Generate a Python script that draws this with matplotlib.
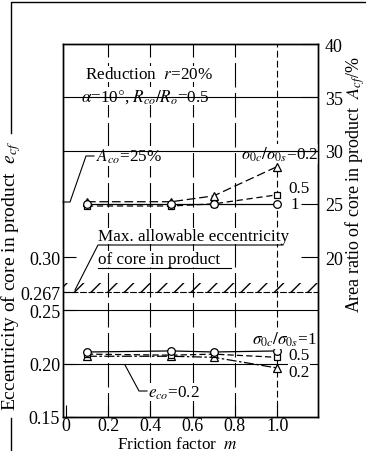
import numpy as np
import matplotlib
matplotlib.use('Agg')
import matplotlib.pyplot as plt
from matplotlib.lines import Line2D

plt.rcParams['font.family'] = ['Liberation Serif', 'DejaVu Serif']
plt.rcParams['mathtext.fontset'] = 'stix'

# Friction factor m
m = [0.1, 0.5, 0.7, 1.0]

# Area ratio of core in product A_cf [%] (right axis)
area_s1 = [25.0, 25.0, 25.0, 25.0]       # sigma_0c/sigma_0s = 1
area_s05 = [24.8, 24.8, 25.0, 25.85]     # 0.5
area_s02 = [25.2, 25.2, 25.75, 28.5]     # 0.2

# Eccentricity of core in product e_cf (left axis)
ecc_s1 = [0.211, 0.212, 0.211, 0.212]
ecc_s05 = [0.209, 0.208, 0.209, 0.206]
ecc_s02 = [0.207, 0.207, 0.206, 0.196]

e_max = 0.267
left_ticks = [0.15, 0.20, 0.25, 0.267, 0.30]
left_labels = ['0.15', '0.20', '0.25', '0.267', '0.30']
right_ticks = [20, 25, 30, 35, 40]
x_ticks = [0, 0.2, 0.4, 0.6, 0.8, 1.0]
x_labels = ['0', '0.2', '0.4', '0.6', '0.8', '1.0']

W, H = 366, 452
fig = plt.figure(figsize=(W / 100, H / 100), dpi=100)
L, R, T, B = 63, 318, 45, 418
ax = fig.add_axes([L / W, 1 - B / H, (R - L) / W, (B - T) / H])
ax2 = ax.twinx()

ax.set_xlim(-0.013, 1.193)
ax.set_ylim(0.15, 0.50)
ax2.set_ylim(5, 40)


def pa(x, y):
    # pixel -> axes fraction
    return (x - L) / (R - L), (B - y) / (B - T)


def seg(pts, **kw):
    xs, ys = zip(*[pa(*p) for p in pts])
    ax.plot(xs, ys, transform=ax.transAxes, color='k', lw=0.8, clip_on=False, **kw)


# grid
for xv in [0.2, 0.4, 0.6, 0.8]:
    ax.axvline(xv, color='k', lw=0.8, ls=(0, (22, 5)), zorder=0)
ax.axvline(1.0, color='k', lw=0.8, ls=(0, (6, 3)), zorder=0)
for yv in [0.20, 0.25]:
    ax.axhline(yv, color='k', lw=0.8, zorder=0)
for yv in [30, 35]:
    ax2.axhline(yv, color='k', lw=0.8, zorder=0)

# hatched limit
ax.axhline(e_max, color='k', lw=0.8, ls=(0, (6, 1.5)))
ax.fill_between([-0.013, 1.193], e_max, e_max + 0.0085, facecolor='none',
                edgecolor='k', hatch='//', lw=0)

mk = dict(color='k', mfc='white', mec='k', mew=0.9, lw=0.9, zorder=3)
# eccentricity curves
ax.plot(m, ecc_s02, marker='^', ms=5.5, ls=(0, (8, 2, 2, 2)), **mk)
ax.plot(m, ecc_s05, marker='s', ms=5, ls=(0, (5, 2.5)), **mk)
ax.plot(m, ecc_s1, marker='o', ms=5.5, ls='-', **mk)
# area ratio curves
ax2.plot(m, area_s02, marker='^', ms=5.5, ls=(0, (7, 3)), **mk)
ax2.plot(m, area_s05, marker='s', ms=5, ls=(0, (5, 3)), **mk)
ax2.plot(m, area_s1, marker='o', ms=5.5, ls='-', **mk)

# ticks
ax.set_xticks(x_ticks, x_labels)
ax.set_yticks(left_ticks, left_labels)
ax2.set_yticks(right_ticks)
ax.tick_params(direction='in', length=9, width=0.8, labelsize=13, pad=0)
ax.tick_params(axis='y', pad=2)
ax2.tick_params(direction='in', length=12, width=0.8, labelsize=13, pad=5)
for a in (ax, ax2):
    for s in a.spines.values():
        s.set_linewidth(1.0)

# axis labels
fig.text(178 / W, 1 - 437 / H, 'Friction factor  $m$', fontsize=12.3,
         ha='center', va='top')
fig.text(11 / W, 1 - 276 / H, 'Eccentricity of core in product  $e_{cf}$',
         fontsize=14, rotation=90, ha='center', va='center')
fig.text(355 / W, 1 - 185 / H, 'Area ratio of core in product  $A_{cf}$/%',
         fontsize=13, rotation=90, ha='center', va='center')

# texts
bg = dict(facecolor='white', edgecolor='none', pad=0.3)
txt = [
    (85, 75, 'Reduction  $r$=20%', 'left'),
    (81, 97, r'$\alpha$=10$\degree$, $R_{co}/R_o$=0.5', 'left'),
    (96, 157, '$A_{co}$=25%', 'left'),
    (319, 155, r'$\sigma_{0c}/\sigma_{0s}$=0.2', 'right'),
    (288, 189, '0.5', 'left'),
    (291, 205, '1', 'left'),
    (98, 237, 'Max. allowable eccentricity', 'left'),
    (98, 260, 'of core in product', 'left'),
    (317, 340, r'$\sigma_{0c}/\sigma_{0s}$=1', 'right'),
    (288, 356, '0.5', 'left'),
    (288, 373, '0.2', 'left'),
    (148, 393, '$e_{co}$=0.2', 'left'),
]
for x, y, s, ha in txt:
    ax.text(*pa(x, y), s, transform=ax.transAxes, ha=ha, va='center',
            fontsize=12.3, bbox=bg, zorder=4)

# leader lines
seg([(63, 203), (70, 203), (86, 157), (94, 157)])
seg([(75, 291), (98, 246), (283, 246)])
seg([(98, 269), (231, 269)])
seg([(125, 366), (139, 392), (147, 392)])

# outer bracket lines
def fl(xs, ys):
    fig.add_artist(Line2D([x / W for x in xs], [1 - y / H for y in ys], color='k', lw=1.0))

fl([11, 11, 366], [134, 3, 3])
fl([11, 11], [419, 452])

fig.savefig('out.png', dpi=100)
